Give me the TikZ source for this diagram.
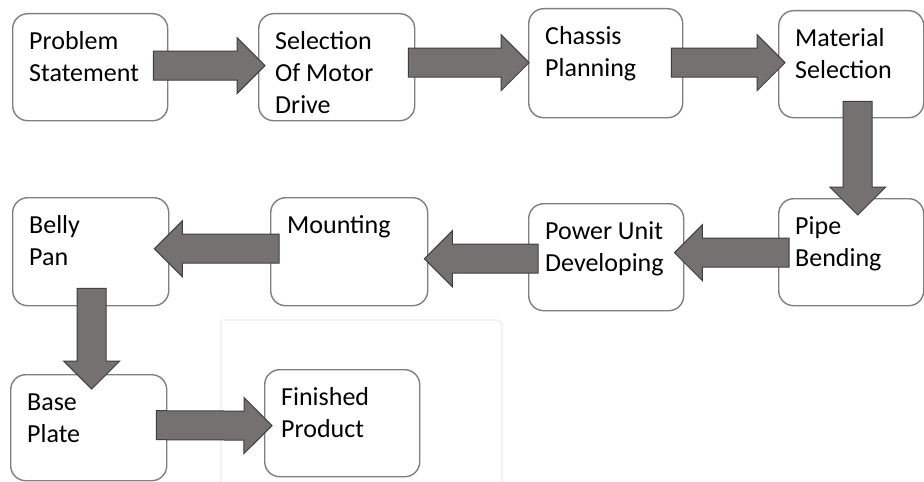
\documentclass[tikz,border=0pt]{standalone}
\usepackage{fontspec}
\setmainfont{Carlito}
\usetikzlibrary{calc}
\definecolor{boxgray}{HTML}{7F7F7F}
\definecolor{arrowfill}{HTML}{757171}
\definecolor{arrowline}{HTML}{3F3F3F}
\newcommand\bxtext[3]{\parbox[t][\dimexpr#2pt/2\relax][t]{\dimexpr#1pt/2\relax}{\fontsize{13pt}{16pt}\selectfont\raggedright\leftskip=8.25pt\rule{0pt}{18pt}#3}}
\newcommand\blockarrow[2]{%
  \coordinate (hb) at ($(#2)!14pt!(#1)$);
  \filldraw[barrow] ($(#1)!7.25pt!90:(#2)$) -- ($(hb)!7.25pt!-90:(#1)$) -- ($(hb)!14pt!-90:(#1)$) -- (#2) -- ($(hb)!14pt!90:(#1)$) -- ($(hb)!7.25pt!90:(#1)$) -- ($(#1)!7.25pt!-90:(#2)$) -- cycle;}
\tikzset{
  stepbox/.style={draw=boxgray, line width=0.7pt, rounded corners=7.5pt, fill=white, inner sep=0pt, anchor=north west},
  barrow/.style={fill=arrowfill, draw=arrowline, line width=0.5pt, line join=miter},
}
\begin{document}
\begin{tikzpicture}[x=0.5pt,y=-0.5pt]
\useasboundingbox (0,0) rectangle (924,481);
\fill[white] (0,0) rectangle (924,481);
% faint background frame
\draw[black!7, line width=0.6pt, rounded corners=3pt] (221,320) -- (221,490) (502,490) -- (502,320) -- (221,320);
% boxes
\node[stepbox] (p1) at (12,13) {\bxtext{155}{107}{Problem\\Statement}};
\node[stepbox] (p2) at (258,13) {\bxtext{156}{107}{Selection\\Of Motor\\Drive}};
\node[stepbox] (p3) at (528,8) {\bxtext{154}{109}{Chassis\\Planning}};
\node[stepbox] (p4) at (778,10) {\bxtext{145}{107}{Material\\Selection}};
\node[stepbox] (p5) at (778,198) {\bxtext{145}{107}{Pipe\\Bending}};
\node[stepbox] (p6) at (528,203) {\bxtext{155}{107}{Power Unit\\Developing}};
\node[stepbox] (p7) at (270,197) {\bxtext{157}{108}{Mounting}};
\node[stepbox] (p8) at (12,197) {\bxtext{156}{108}{Belly\\Pan}};
\node[stepbox] (p9) at (10,374) {\bxtext{156}{106}{Base\\Plate}};
\node[stepbox] (p10) at (264,369) {\bxtext{155}{107}{Finished\\Product}};
% arrow end points
\coordinate (a1s) at ($(p1.east)+(-15,-1.5)$);
\coordinate (a1e) at ($(p2.west)+(7,-1.5)$);
\coordinate (a2s) at ($(p2.east)+(-7,-4.5)$);
\coordinate (a2e) at ($(p3.west)+(1,-0.5)$);
\coordinate (a3s) at ($(p3.east)+(-12,-0.5)$);
\coordinate (a3e) at ($(p4.west)+(7,-1.5)$);
\coordinate (a4s) at ($(p4.south)+(6.5,-17)$);
\coordinate (a4e) at ($(p5.north)+(6.5,17)$);
\coordinate (a5s) at ($(p5.west)+(11,0.5)$);
\coordinate (a5e) at ($(p6.east)+(-10,-4.5)$);
\coordinate (a6s) at ($(p6.west)+(10,1.5)$);
\coordinate (a6e) at ($(p7.east)+(-4,7)$);
\coordinate (a7s) at ($(p7.west)+(9,-3)$);
\coordinate (a7e) at ($(p8.east)+(-15,-3)$);
\coordinate (a8s) at ($(p8.south)+(1,-18)$);
\coordinate (a8e) at ($(p9.north)+(3,15)$);
\coordinate (a9s) at ($(p9.east)+(-11,-2.5)$);
\coordinate (a9e) at ($(p10.west)+(8,2.5)$);
% arrows
\blockarrow{a1s}{a1e}
\blockarrow{a2s}{a2e}
\blockarrow{a3s}{a3e}
\blockarrow{a4s}{a4e}
\blockarrow{a5s}{a5e}
\blockarrow{a6s}{a6e}
\blockarrow{a7s}{a7e}
\blockarrow{a8s}{a8e}
\blockarrow{a9s}{a9e}
\end{tikzpicture}
\end{document}
